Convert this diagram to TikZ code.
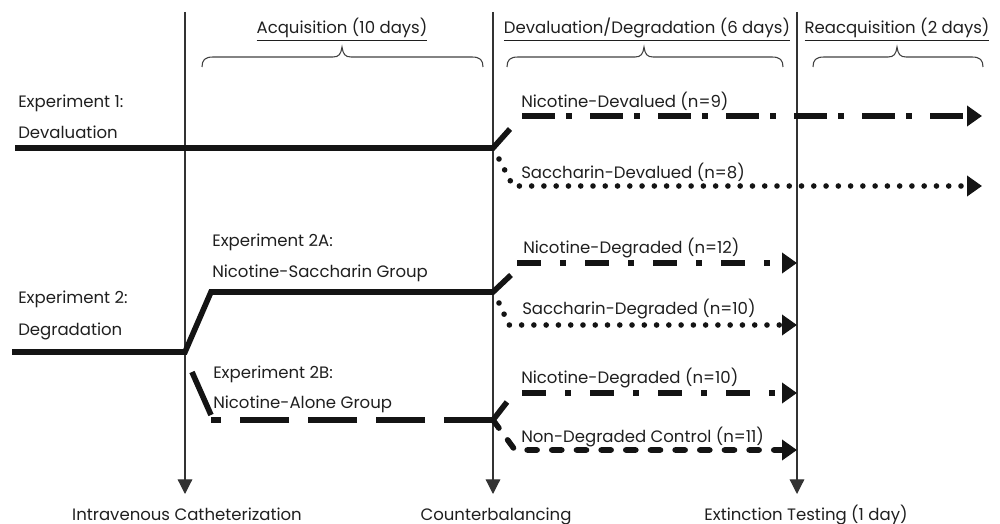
\documentclass[tikz,border=0pt]{standalone}
\usepackage{fontspec}
\setmainfont{Poppins}
\usetikzlibrary{arrows.meta}
\newcommand\mybrace[3]{%
  \draw[bracestyle] (#1,67) .. controls (#1,60) and ({#1+3},57) .. ({#1+11},57)
    -- ({#3-9},57) .. controls ({#3-3},57) and ({#3-1},54) .. (#3,47)
    .. controls ({#3+1},54) and ({#3+3},57) .. ({#3+9},57)
    -- ({#2-11},57) .. controls ({#2-3},57) and (#2,60) .. (#2,67);}
\begin{document}
\begin{tikzpicture}[x=0.75pt,y=-0.75pt,
  lbl/.style={anchor=base west, inner sep=0pt, font=\fontsize{12.4}{14}\selectfont, text=black!88},
  blbl/.style={anchor=base, inner sep=0pt, font=\fontsize{12.4}{14}\selectfont, text=black!88},
  vline/.style={draw=black!80, line width=0.9pt, -{Triangle[length=11pt,width=11pt]}},
  bracestyle/.style={draw=black!75, line width=0.8pt},
  grp/.style={line width=4.2pt, draw=black!92},
  tipA/.style={-{Triangle[length=11.25pt,width=15pt]}},
  dashdotA/.style={grp, dash pattern=on 24.75pt off 8.25pt on 4.5pt off 13.5pt},
  dashdotB/.style={grp, dash pattern=on 18pt off 14.25pt on 4.5pt off 14.25pt},
  dotline/.style={grp, line cap=round, dash pattern=on 0pt off 9.2pt},
  roundash/.style={grp, line cap=round, dash pattern=on 7.5pt off 11pt},
  longdash/.style={grp, dash pattern=on 36.75pt off 14.25pt}
]
\useasboundingbox (0,0) rectangle (1000,524);

% vertical time lines
\coordinate (v1t) at (185,12); \coordinate (v1b) at (185,494);
\coordinate (v2t) at (493,12); \coordinate (v2b) at (493,494);
\coordinate (v3t) at (797,12); \coordinate (v3b) at (797,494);
\draw[vline] (v1t) -- (v1b);
\draw[vline] (v2t) -- (v2b);
\draw[vline] (v3t) -- (v3b);

% bottom labels
\node[blbl] (catheter) at (187,520) {Intravenous Catheterization};
\node[blbl] (counter) at (496,520) {Counterbalancing};
\node[blbl] (extinct) at (806,520) {Extinction Testing (1 day)};

% headers
\node[blbl] (hacq) at (342,34) {\underline{Acquisition (10 days)}};
\node[blbl] (hdev) at (647,34) {\underline{Devaluation/Degradation (6 days)}};
\node[blbl] (hreacq) at (897,34) {\underline{Reacquisition (2 days)}};
\mybrace{202}{483}{342}
\mybrace{507}{783}{644}
\mybrace{813}{983}{897}

% Experiment 1
\node[lbl] (e1a) at (18,108) {Experiment 1:};
\node[lbl] (e1b) at (18,139) {Devaluation};
\coordinate (e1s) at (15,148);
\coordinate (e1j) at (493,148);
\coordinate (e1u) at (510,129);
\coordinate (e1ns) at (522,116);
\coordinate (e1ne) at (982,116);
\coordinate (e1d0) at (499,159);
\coordinate (e1dc) at (513,186);
\coordinate (e1de) at (982,186);
\draw[grp] (e1s) -- (e1j) -- (e1u);
\draw[dashdotA, tipA] (e1ns) -- (e1ne);
\draw[dotline, tipA] (e1d0) -- (e1dc) -- (e1de);
\node[lbl] (nd9) at (521,108) {Nicotine-Devalued (n=9)};
\node[lbl] (sd8) at (521,179) {Saccharin-Devalued (n=8)};

% Experiment 2
\node[lbl] (e2a) at (18,303) {Experiment 2:};
\node[lbl] (e2b) at (18,335) {Degradation};
\coordinate (e2s) at (12,352);
\coordinate (e2j) at (185,352);
\coordinate (e2Au) at (211,292);
\coordinate (e2Aj) at (493,292);
\coordinate (e2Aup) at (511,275);
\draw[grp] (e2s) -- (e2j) -- (e2Au) -- (e2Aj) -- (e2Aup);
\node[lbl] (e2Aa) at (212,247) {Experiment 2A:};
\node[lbl] (e2Ab) at (212,277) {Nicotine-Saccharin Group};

\coordinate (n12s) at (517,263);
\coordinate (n12e) at (797,263);
\draw[dashdotB, tipA] (n12s) -- (n12e);
\node[lbl] (n12) at (523,253) {Nicotine-Degraded (n=12)};
\coordinate (s10a) at (499,303);
\coordinate (s10c) at (509,325);
\coordinate (s10e) at (797,325);
\draw[dotline, tipA] (s10a) -- (s10c) -- (s10e);
\node[lbl] (s10) at (522,315) {Saccharin-Degraded (n=10)};

% Experiment 2B
\coordinate (e2Bs) at (192,372);
\coordinate (e2Bc) at (211,415);
\draw[grp] (e2Bs) -- (e2Bc);
\coordinate (e2Bh) at (211,420);
\coordinate (e2Bj) at (493,420);
\draw[longdash] (e2Bj) -- (e2Bh);
\node[lbl] (e2Ba) at (213,378) {Experiment 2B:};
\node[lbl] (e2Bb) at (213,408) {Nicotine-Alone Group};
\coordinate (e2Bup) at (507,402);
\draw[grp] (e2Bj) -- (e2Bup);
\coordinate (n10s) at (522,393);
\coordinate (n10e) at (797,393);
\draw[dashdotB, tipA] (n10s) -- (n10e);
\node[lbl] (n10) at (521,383) {Nicotine-Degraded (n=10)};
\coordinate (ndc) at (515,450);
\coordinate (nde) at (797,450);
\draw[roundash, tipA] (e2Bj) -- (ndc) -- (nde);
\node[lbl] (nd11) at (521,442) {Non-Degraded Control (n=11)};
\end{tikzpicture}
\end{document}
